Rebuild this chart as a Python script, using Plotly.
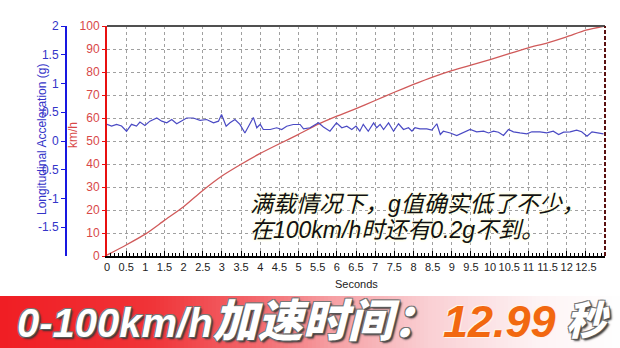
import numpy as np
import plotly.graph_objects as go

# ---------------- data ----------------
speed_t = [0.0, 0.5, 1.0, 1.5, 2.0, 2.5, 3.0, 3.5, 4.0, 4.5, 5.0, 5.5, 6.0, 6.5,
           7.0, 7.5, 8.0, 8.5, 9.0, 9.5, 10.0, 10.5, 11.0, 11.5, 12.0, 12.5, 12.99]
speed_kmh = [0.4, 4.8, 9.5, 15.5, 21.4, 28.5, 34.8, 39.9, 44.6, 48.8, 52.9, 57.2, 60.8, 64.1,
             67.6, 71.2, 74.6, 77.8, 80.6, 83.0, 85.4, 88.0, 90.5, 92.7, 95.3, 98.2, 100.0]

accel_t = [0.0, 0.12, 0.25, 0.38, 0.51, 0.64, 0.77, 0.86, 0.99, 1.12, 1.30, 1.43, 1.56, 1.69,
           1.82, 1.95, 2.08, 2.25, 2.43, 2.60, 2.78, 2.91, 2.99, 3.11, 3.21, 3.34, 3.47, 3.60,
           3.69, 3.82, 3.91, 4.00, 4.08, 4.26, 4.43, 4.56, 4.69, 4.86, 5.04, 5.13, 5.30, 5.52,
           5.65, 5.82, 5.99, 6.13, 6.26, 6.39, 6.50, 6.60, 6.69, 6.82, 6.96, 7.04, 7.13, 7.22,
           7.35, 7.48, 7.61, 7.74, 7.87, 7.96, 8.04, 8.17, 8.35, 8.48, 8.61, 8.70, 8.78, 8.96,
           9.13, 9.30, 9.48, 9.65, 9.83, 9.96, 10.09, 10.22, 10.35, 10.48, 10.61, 10.78, 10.96,
           11.09, 11.30, 11.48, 11.65, 11.79, 11.92, 12.09, 12.26, 12.39, 12.53, 12.66, 12.83, 12.96]
accel_g = [0.29, 0.26, 0.29, 0.26, 0.17, 0.29, 0.26, 0.33, 0.27, 0.345, 0.40, 0.345, 0.316, 0.374,
           0.30, 0.345, 0.40, 0.40, 0.36, 0.374, 0.316, 0.345, 0.46, 0.257, 0.316, 0.374, 0.29, 0.14,
           0.257, 0.41, 0.23, 0.29, 0.20, 0.20, 0.23, 0.20, 0.257, 0.287, 0.287, 0.21, 0.23, 0.316,
           0.245, 0.17, 0.316, 0.23, 0.257, 0.20, 0.26, 0.17, 0.29, 0.17, 0.316, 0.23, 0.29, 0.20,
           0.316, 0.17, 0.30, 0.20, 0.23, 0.17, 0.23, 0.21, 0.21, 0.19, 0.30, 0.113, 0.17, 0.14,
           0.096, 0.153, 0.20, 0.16, 0.17, 0.14, 0.17, 0.153, 0.096, 0.20, 0.16, 0.14, 0.125,
           0.16, 0.16, 0.14, 0.17, 0.113, 0.153, 0.16, 0.19, 0.16, 0.084, 0.16, 0.14, 0.125]

x_tickvals = [i * 0.5 for i in range(26)]
x_ticktext = ["0"] + [("%g" % v) for v in x_tickvals[1:]]
g_tickvals = [-1.5, -1, -0.5, 0, 0.5, 1, 1.5, 2]
g_ticktext = ["-1.5", "-1", "-0.5", "0", "0.5", "1", "1.5", "2"]
kmh_tickvals = list(range(0, 101, 10))

title_g = "Longitudinal Acceleration (g)"
title_kmh = "km/h"
title_x = "Seconds"
note_line1 = "满载情况下，g值确实低了不少，"
note_line2 = "在100km/h时还有0.2g不到。"
banner_text = "0-100km/h加速时间："
banner_value = "12.99"
banner_unit = "秒"

# ---------------- layout helpers ----------------
W, H = 620, 348
ML, MR, MT, MB = 20, 15, 26, 92
PW = W - ML - MR
PH = H - MT - MB


def px(x):
    return (x - ML) / PW


def py(y):
    return (H - MB - y) / PH


FONT = "Liberation Sans, Arial, sans-serif"
CJK = "Liberation Sans, Noto Sans CJK SC, sans-serif"
RED_AX = "#e81010"
RED_TXT = "#d84848"
BLUE_AX = "#1818e0"
BLUE_TXT = "#3434c8"

fig = go.Figure()
fig.add_trace(go.Scatter(x=speed_t, y=speed_kmh, mode="lines", line_shape="spline",
                         line=dict(color="#d05a5a", width=1.3, smoothing=0.6), yaxis="y",
                         hoverinfo="skip"))
fig.add_trace(go.Scatter(x=accel_t, y=accel_g, mode="lines",
                         line=dict(color="#4a4ac4", width=1.2), yaxis="y2", hoverinfo="skip"))

fig.update_layout(
    width=W, height=H,
    margin=dict(l=ML, r=MR, t=MT, b=MB, autoexpand=False),
    paper_bgcolor="white", plot_bgcolor="white",
    showlegend=False,
    font=dict(family=FONT, size=11, color="#222"),
    xaxis=dict(
        domain=[px(107), 1], range=[0, 13], automargin=False,
        tickvals=x_tickvals, ticktext=x_ticktext,
        ticks="inside", ticklen=5, tickcolor="#000", tickwidth=1,
        minor=dict(dtick=0.1, ticks="inside", ticklen=3, tickcolor="#000", showgrid=False),
        showline=True, linecolor="#000", linewidth=2,
        showgrid=True, gridcolor="#a0a0a0", griddash="3px,3px", gridwidth=1,
        zeroline=False, tickfont=dict(size=11, color="#222"),
    ),
    yaxis=dict(
        range=[0, 100], tickvals=kmh_tickvals, automargin=False,
        ticks="outside", ticklen=3, tickcolor=RED_AX,
        showline=True, linecolor=RED_AX, linewidth=2,
        showgrid=True, gridcolor="#a0a0a0", griddash="3px,3px", gridwidth=1,
        zeroline=False, tickfont=dict(size=12, color=RED_TXT),
    ),
    yaxis2=dict(
        range=[-2, 2], overlaying="y", anchor="free", position=px(66), side="left",
        automargin=False, tickvals=g_tickvals, ticktext=g_ticktext,
        ticks="outside", ticklen=4, tickcolor=BLUE_AX,
        showline=True, linecolor=BLUE_AX, linewidth=2,
        showgrid=False, zeroline=False, tickfont=dict(size=12, color=BLUE_TXT),
    ),
)

shapes = []
# plot frame top and right
shapes.append(dict(type="line", xref="x domain", yref="y domain", x0=0, x1=1, y0=1, y1=1,
                   line=dict(color="#505050", width=2)))
shapes.append(dict(type="line", xref="x domain", yref="y domain", x0=1, x1=1, y0=0, y1=1,
                   line=dict(color="#5a1010", width=2, dash="4px,2px")))

# banner gradient
stops_x = [0, 150, 250, 330, 430, 540, 620]
stops_r = [240, 240, 243, 246, 250, 254, 255]
stops_g = [30, 52, 100, 158, 208, 244, 255]
stops_b = [36, 56, 105, 162, 212, 245, 255]
step = 4
for x0 in range(0, W, step):
    xm = x0 + step / 2
    r = int(np.interp(xm, stops_x, stops_r))
    g = int(np.interp(xm, stops_x, stops_g))
    b = int(np.interp(xm, stops_x, stops_b))
    shapes.append(dict(type="rect", xref="paper", yref="paper",
                       x0=px(x0), x1=px(x0 + step + 0.6), y0=py(296), y1=py(H),
                       fillcolor="rgb(%d,%d,%d)" % (r, g, b), line=dict(width=0), layer="below"))
fig.update_layout(shapes=shapes)

ann = []
ann.append(dict(text=title_g, xref="paper", yref="paper", x=px(42), y=py(140), textangle=-90,
                showarrow=False, xanchor="center", yanchor="middle",
                font=dict(family=FONT, size=12, color=BLUE_TXT)))
ann.append(dict(text=title_kmh, xref="paper", yref="paper", x=px(73), y=py(135), textangle=-90,
                showarrow=False, xanchor="center", yanchor="middle",
                font=dict(family=FONT, size=12, color=RED_TXT)))
ann.append(dict(text=title_x, xref="paper", yref="paper", x=px(356), y=py(284),
                showarrow=False, xanchor="center", yanchor="middle",
                font=dict(family=FONT, size=11, color="#222")))
glow = "0 0 3px #ffffd8, 0 0 3px #ffffd8"
ann.append(dict(text="<i>" + note_line1 + "</i>", xref="paper", yref="paper", x=px(248), y=py(204),
                showarrow=False, xanchor="left", yanchor="middle",
                font=dict(family=CJK, size=23, color="#111", shadow=glow)))
ann.append(dict(text="<i>" + note_line2 + "</i>", xref="paper", yref="paper", x=px(248), y=py(230),
                showarrow=False, xanchor="left", yanchor="middle",
                font=dict(family=CJK, size=23, color="#111", shadow=glow)))
outline = "1px 1px 0 #555, -1px -1px 0 #777, 1px -1px 0 #777, -1px 1px 0 #777, 2px 2px 2px #333"
ann.append(dict(text="<span style='font-size:40px'>0-100km/h</span><span style='font-size:45px'>加速时间：</span>",
                xref="paper", yref="paper", x=px(15), y=py(321),
                showarrow=False, xanchor="left", yanchor="middle",
                font=dict(family=CJK, size=40, color="white", weight=900, style="italic", shadow=outline)))
ann.append(dict(text=banner_value, xref="paper", yref="paper", x=px(441), y=py(321),
                showarrow=False, xanchor="left", yanchor="middle",
                font=dict(family=FONT, size=45, color="#f26810", weight=700, style="italic",
                          shadow="1px 1px 0 #fff3e8, -1px -1px 0 #fff3e8")))
ann.append(dict(text=banner_unit, xref="paper", yref="paper", x=px(564), y=py(321),
                showarrow=False, xanchor="left", yanchor="middle",
                font=dict(family=CJK, size=40, color="white", weight=900, style="italic", shadow=outline)))
fig.update_layout(annotations=ann)

fig.write_html("out.html")
